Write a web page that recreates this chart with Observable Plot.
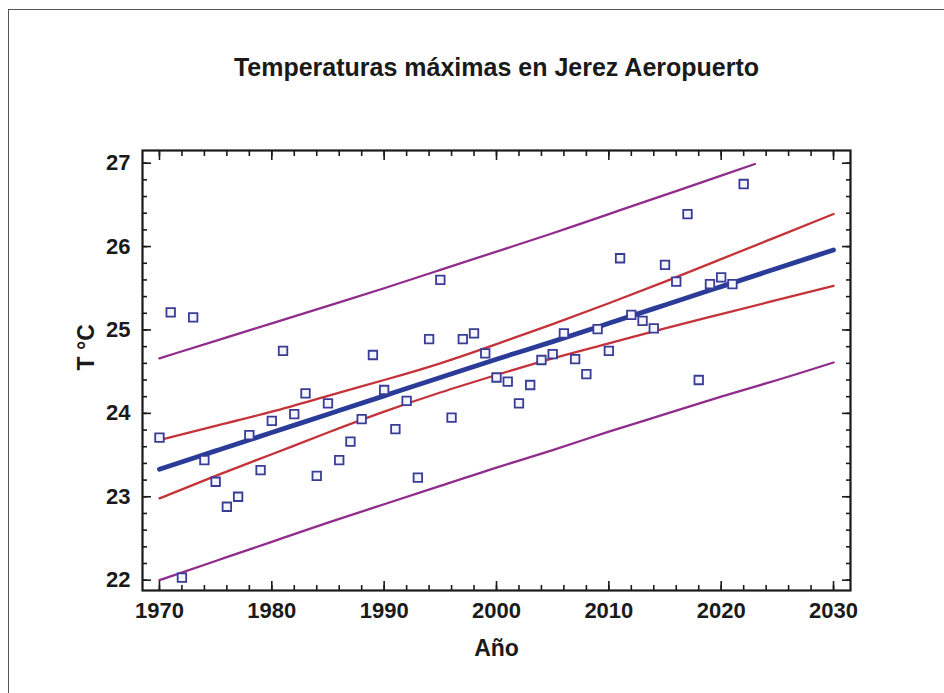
<!DOCTYPE html>
<html>
<head>
<meta charset="utf-8">
<script src="https://cdn.jsdelivr.net/npm/d3@7"></script>
<script src="https://cdn.jsdelivr.net/npm/@observablehq/plot@0.6"></script>
<style>
  body { margin: 0; background: #fff; }
  #wrap { position: relative; width: 944px; height: 693px; overflow: hidden; background: #fff; }
  #border { position: absolute; left: 8px; top: 9px; width: 2000px; height: 2000px;
            border-top: 1px solid #555; border-left: 1px solid #555; pointer-events: none; }
  #chart { position: absolute; left: 0; top: 0; }
</style>
</head>
<body>
<div id="wrap"><div id="border"></div><div id="chart"></div></div>
<script>
// ---- data ----
const years = [1970,1971,1972,1973,1974,1975,1976,1977,1978,1979,
               1980,1981,1982,1983,1984,1985,1986,1987,1988,1989,
               1990,1991,1992,1993,1994,1995,1996,1997,1998,1999,
               2000,2001,2002,2003,2004,2005,2006,2007,2008,2009,
               2010,2011,2012,2013,2014,2015,2016,2017,2018,2019,
               2020,2021,2022];
const tmax = [23.71,25.21,22.03,25.15,23.44,23.18,22.88,23.00,23.74,23.32,
              23.91,24.75,23.99,24.24,23.25,24.12,23.44,23.66,23.93,24.70,
              24.28,23.81,24.15,23.23,24.89,25.60,23.95,24.89,24.96,24.72,
              24.43,24.38,24.12,24.34,24.64,24.71,24.96,24.65,24.47,25.01,
              24.75,25.86,25.18,25.11,25.02,25.78,25.58,26.39,24.40,25.55,
              25.63,25.55,26.75];

const bandYears = [1970,1975,1980,1985,1990,1995,2000,2005,2010,2015,2020,2025,2030];
const fitLine   = [23.33,23.55,23.77,23.99,24.21,24.43,24.65,24.86,25.08,25.30,25.52,25.74,25.96];
const confHi    = [23.68,23.85,24.02,24.21,24.40,24.60,24.83,25.07,25.32,25.58,25.85,26.12,26.39];
const confLo    = [22.98,23.25,23.51,23.77,24.02,24.25,24.46,24.66,24.84,25.02,25.19,25.36,25.53];
const predLo    = [22.00,22.23,22.46,22.69,22.91,23.13,23.35,23.56,23.78,23.99,24.20,24.40,24.61];
const predHiYears = [1970,1975,1980,1985,1990,1995,2000,2005,2010,2015,2020,2023];
const predHi      = [24.66,24.87,25.08,25.29,25.50,25.72,25.94,26.16,26.39,26.62,26.85,26.99];

const xMajor = [1970,1980,1990,2000,2010,2020,2030];
const yMajor = [22,23,24,25,26,27];
const xMinor = d3.range(1970, 2031, 2);
const yMinor = d3.range(22, 27.001, 0.2);

const titleText = "Temperaturas máximas en Jerez Aeropuerto";
const xLabel = "Año";
const yLabel = "T °C";

// ---- tables ----
const pts = years.map((year, i) => ({year, t: tmax[i]}));
const band = bandYears.map((year, i) => ({year, fit: fitLine[i], hi: confHi[i], lo: confLo[i], plo: predLo[i]}));
const upper = predHiYears.map((year, i) => ({year, v: predHi[i]}));

const font = "'Liberation Sans', Arial, Helvetica, sans-serif";
const ink = "#1a1a1a";
const purple = "#902c8a";
const red = "#c4333a";
const blue = "#2b3c98";

const tickOpts = (anchor, ticks, size) => ({anchor, ticks, tickSize: size, tickFormat: () => "", label: null, stroke: ink, strokeWidth: 1.6});

const chart = Plot.plot({
  width: 944,
  height: 693,
  marginLeft: 142,
  marginRight: 94,
  marginTop: 150,
  marginBottom: 103,
  style: {fontFamily: font, background: "transparent", color: ink},
  x: {domain: [1968.49, 2031.51]},
  y: {domain: [21.876, 27.152]},
  marks: [
    Plot.line(upper, {x: "year", y: "v", stroke: purple, strokeWidth: 2.3, curve: "natural"}),
    Plot.line(band, {x: "year", y: "plo", stroke: purple, strokeWidth: 2.3, curve: "natural"}),
    Plot.line(band, {x: "year", y: "hi", stroke: red, strokeWidth: 2.3, curve: "natural"}),
    Plot.line(band, {x: "year", y: "lo", stroke: red, strokeWidth: 2.3, curve: "natural"}),
    Plot.line(band, {x: "year", y: "fit", stroke: blue, strokeWidth: 4.8, curve: "natural"}),
    Plot.dot(pts, {x: "year", y: "t", symbol: "square", r: 4.8, stroke: "#383c94", strokeWidth: 1.8, fill: "#f4f4ff"}),
    // inward ticks on all four sides
    Plot.axisX(tickOpts("bottom", xMinor, -5)),
    Plot.axisX(tickOpts("bottom", xMajor, -9)),
    Plot.axisX(tickOpts("top", xMinor, -5)),
    Plot.axisX(tickOpts("top", xMajor, -9)),
    Plot.axisY(tickOpts("left", yMinor, -5)),
    Plot.axisY(tickOpts("left", yMajor, -9)),
    Plot.axisY(tickOpts("right", yMinor, -5)),
    Plot.axisY(tickOpts("right", yMajor, -9)),
    // tick labels
    Plot.axisX({anchor: "bottom", ticks: xMajor, tickSize: 0, tickPadding: 12, tickFormat: d => String(d), label: null, fontSize: 22, fontWeight: "bold", fill: ink}),
    Plot.axisY({anchor: "left", ticks: yMajor, tickSize: 0, tickPadding: 12, tickFormat: d => String(d), label: null, fontSize: 22, fontWeight: "bold", fill: ink}),
    Plot.frame({stroke: ink, strokeWidth: 2.2}),
    // title and axis labels
    Plot.text([titleText], {frameAnchor: "top", dy: -83, text: d => d, fontSize: 25, fontWeight: "bold", fill: ink, lineAnchor: "middle"}),
    Plot.text([xLabel], {frameAnchor: "bottom", dy: 58, text: d => d, fontSize: 23, fontWeight: "bold", fill: ink, lineAnchor: "middle"}),
    Plot.text([yLabel], {frameAnchor: "left", dx: -56, text: d => d, rotate: -90, fontSize: 23, fontWeight: "bold", fill: ink, lineAnchor: "middle"})
  ]
});
document.getElementById("chart").appendChild(chart);
</script>
</body>
</html>
